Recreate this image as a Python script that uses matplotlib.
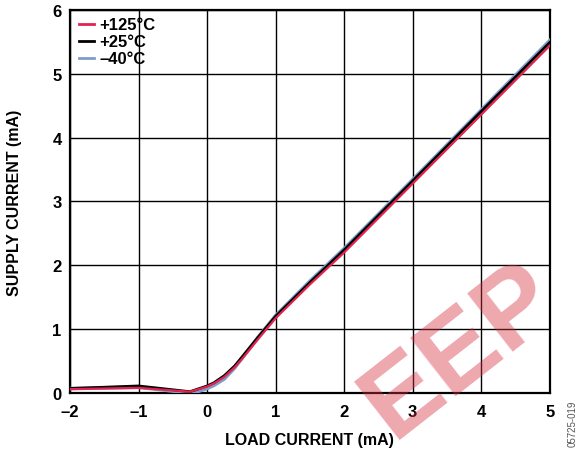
import matplotlib
matplotlib.use("Agg")
import matplotlib.pyplot as plt

plt.rcParams['font.family'] = ['Liberation Sans', 'DejaVu Sans']

# load current (mA) and supply current (mA)
x_red = [-2, -1.5, -1, -0.5, -0.25, 0, 0.1, 0.25, 0.4, 0.5, 0.75, 1, 1.5, 2, 3, 4, 5]
y_red = [0.06, 0.07, 0.08, 0.04, 0.02, 0.10, 0.15, 0.25, 0.40, 0.52, 0.85, 1.17, 1.70, 2.20, 3.28, 4.36, 5.44]

x_black = [-2, -1.5, -1, -0.5, -0.25, 0, 0.1, 0.25, 0.4, 0.5, 0.75, 1, 1.5, 2, 3, 4, 5]
y_black = [0.07, 0.09, 0.11, 0.05, 0.02, 0.11, 0.16, 0.27, 0.42, 0.55, 0.88, 1.20, 1.73, 2.24, 3.32, 4.41, 5.49]

x_blue = [-2, -1.5, -1, -0.5, -0.2, 0, 0.1, 0.25, 0.4, 0.5, 0.75, 1, 1.5, 2, 3, 4, 5]
y_blue = [0.07, 0.08, 0.09, 0.03, 0.0, 0.07, 0.12, 0.22, 0.39, 0.53, 0.88, 1.21, 1.75, 2.26, 3.34, 4.43, 5.52]

labels = ['+125°C', '+25°C', '\u201340°C']
xticks = [-2, -1, 0, 1, 2, 3, 4, 5]
xticklabels = ['\u20132', '\u20131', '0', '1', '2', '3', '4', '5']
yticks = [0, 1, 2, 3, 4, 5, 6]

fig = plt.figure(figsize=(5.83, 4.56), dpi=100)
ax = fig.add_axes([0.120, 0.136, 0.823, 0.840])

l3, = ax.plot(x_blue, y_blue, color='#7f9cc8', lw=2.6, zorder=3, label=labels[2])
l2, = ax.plot(x_black, y_black, color='black', lw=2.0, zorder=4, label=labels[1])
l1, = ax.plot(x_red, y_red, color='#e3234f', lw=1.6, zorder=5, label=labels[0])

ax.set_xlim(-2, 5)
ax.set_ylim(0, 6)
ax.set_xticks(xticks)
ax.set_xticklabels(xticklabels)
ax.set_yticks(yticks)
ax.grid(True, color='black', lw=1.0)
ax.tick_params(length=0, labelsize=12)
ax.tick_params(axis='x', pad=8)
ax.tick_params(axis='y', pad=6)
for t in ax.get_xticklabels() + ax.get_yticklabels():
    t.set_fontweight('bold')
for s in ax.spines.values():
    s.set_linewidth(1.6)

ax.set_xlabel('LOAD CURRENT (mA)', fontsize=11.5, fontweight='bold', labelpad=9)
ax.set_ylabel('SUPPLY CURRENT (mA)', fontsize=11.5, fontweight='bold', labelpad=22)

leg = ax.legend(handles=[l1, l2, l3], loc='upper left', frameon=False,
                prop={'weight': 'bold', 'size': 12}, handlelength=0.9,
                handletextpad=0.3, labelspacing=0.12, borderaxespad=0.0,
                bbox_to_anchor=(0.005, 0.998))
for h in leg.get_lines():
    h.set_linewidth(2.0)

fig.text(0.982, 0.02, '05725-019', rotation=90, fontsize=7, color='#555555',
         ha='center', va='bottom')

# watermark
fig.text(0.79, 0.23, 'EEP', rotation=38, fontsize=78, fontweight='bold',
         color='#d83040', alpha=0.42, ha='center', va='center', zorder=10)

fig.savefig('out.png', dpi=100)
